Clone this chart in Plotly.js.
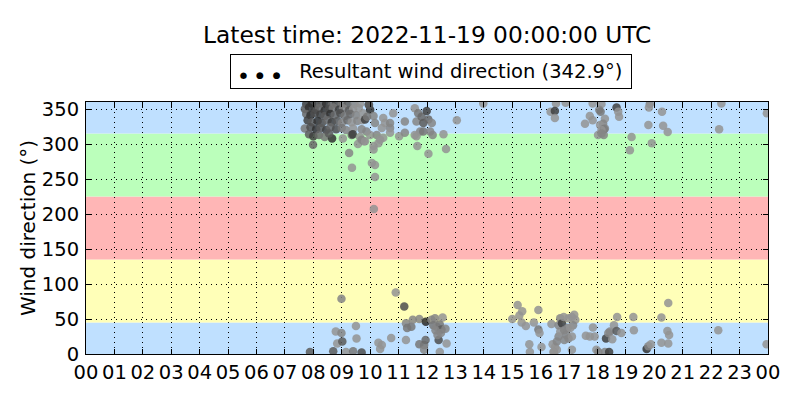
<!DOCTYPE html>
<html><head><meta charset="utf-8">
<script src="https://cdn.plot.ly/plotly-3.0.1.min.js"></script>
<style>html,body{margin:0;padding:0;background:#fff}#chart{width:800px;height:400px}</style>
</head><body><div id="chart"></div>
<script>
// [hour of day (UTC), wind direction (deg), darkness 0..1]
const morningNorth = [
[7.75,357,.8],[7.95,358,.9],[8.1,356,.7],[8.3,358,.6],[8.45,357,.9],[8.65,356,.5],[8.8,358,.7],[9.0,357,.4],[9.2,356,.6],[9.45,357,.3],[9.65,358,.2],[9.95,356,.8],
[7.7,350,.6],[7.85,352,.9],[8.05,349,.8],[8.2,351,.5],[8.4,348,.9],[8.55,350,.7],[8.7,352,.4],[8.9,349,.8],[9.05,351,.3],[9.25,348,.6],[9.4,350,.2],[9.6,351,.2],
[7.75,343,.5],[7.9,341,.9],[8.05,344,.7],[8.25,342,.8],[8.4,340,.6],[8.6,343,.9],[8.75,341,.5],[8.95,344,.7],[9.1,340,.4],[9.3,343,.5],[9.5,341,.3],[9.75,344,.2],
[7.8,334,.8],[7.95,331,.6],[8.15,333,.9],[8.3,330,.7],[8.5,334,.5],[8.65,331,.8],[8.85,333,.6],[9.0,330,.3],[9.2,334,.5],[9.35,331,.2],[9.55,333,.3],[9.71,334,.2],
[7.7,322,.4],[7.9,324,.7],[8.1,321,.9],[8.25,323,.6],[8.45,320,.8],[8.6,324,.5],[8.8,321,.7],[9.0,323,.4],[9.15,320,.3],[9.4,322,.2],[9.7,321,.3],
[7.85,314,.6],[8.0,311,.8],[8.2,313,.5],[8.4,310,.4],[8.66,308,.9],[8.55,315,.6],[9.04,308,.2],[9.35,313,.5],[9.39,314,.8],[9.64,310,.2],[9.78,304,.2],[9.57,300,.2],
[7.99,299,.5],[9.26,287,.3],[9.36,266,.2]
];
const middayNorth = [
[10.0,349,.9],[9.82,335,.8],[10.12,340,.3],[10.17,330,.3],[10.46,337,.2],[10.52,330,.2],[10.41,323,.2],[10.7,330,.3],[10.7,323,.3],[10.7,316,.2],[10.81,344,.2],
[9.87,318,.3],[10.0,313,.2],[10.23,313,.3],[10.35,306,.2],[10.46,309,.2],[10.29,301,.2],[10.12,297,.2],[10.12,292,.2],[9.7,306,.3],[9.82,304,.2],
[11.02,311,.2],[11.22,332,.3],[11.22,316,.3],
[11.57,351,.2],[11.69,344,.4],[11.63,332,.3],[11.81,339,.5],[11.87,330,.6],[11.76,318,.3],[11.57,313,.2],[11.63,311,.2],[11.87,318,.4],[11.99,347,.8],
[12.05,335,.5],[12.17,330,.3],[12.11,318,.3],[12.2,313,.3],
[11.66,297,.2],[12.05,286,.2],[12.58,314,.2],[12.67,293,.2],[13.05,334,.2],[10.06,273,.2],[10.17,270,.2],[10.17,253,.2],[10.13,207,.2],[9.96,356,.6],[9.89,339,.4]
];
const morningEast = [
[7.88,3,.6],[8.7,4,.6],[8.79,32,.2],[8.84,15,.2],[8.99,79,.3],[8.99,30,.3],[9.02,18,.6],[9.15,3,.2],[9.4,4,.4],[9.5,40,.2],[9.52,22,.2],[9.7,2,.7],
[10.29,16,.2],[10.35,7,.2],[10.41,13,.2],[10.74,23,.2],[10.9,88,.2],[11.2,68,.7],[11.26,44,.3],[11.3,37,.4],[11.45,39,.4],[11.5,49,.3],[11.26,20,.2],
[11.73,50,.3],[11.73,14,.4],[11.9,13,.4],[11.95,20,.5],[11.9,6,.3],[12.45,3,.2],[12.41,20,.7],[12.69,15,.2],[11.96,46,.95],[12.16,49,.3],[12.28,51,.3],
[12.55,52,.2],[12.22,41,.4],[12.34,39,.3],[12.45,42,.4],[12.51,35,.6],[12.65,36,.3],[12.3,34,.3],[12.37,27,.3],[12.49,30,.3]
];
const afternoonEast = [
[15.0,50,.2],[15.19,70,.2],[15.25,55,.2],[15.35,61,.2],[15.33,45,.2],[15.48,40,.2],[15.6,14,.2],[15.62,3,.2],[15.76,45,.2],[15.92,63,.2],[15.92,35,.4],
[15.96,30,.2],[16.03,10,.2],[16.38,43,.2],[16.42,14,.2],[16.47,3,.2],
[16.51,10,.2],[16.57,18,.3],[16.63,25,.3],[16.69,32,.2],[16.63,41,.3],[16.69,51,.3],[16.75,44,.8],[16.83,34,.3],[16.9,27,.3],[16.95,37,.3],[16.81,53,.2],
[16.98,51,.2],[17.1,53,.2],[17.18,56,.2],[17.22,49,.2],[17.14,41,.3],[17.04,37,.2],[16.98,22,.3],[17.1,25,.2],[16.83,20,.3],[16.57,6,.2],[16.45,3,.2],[17.1,6,.2],
[17.59,26,.2],[17.73,25,.2],[17.9,25,.2],[17.84,38,.2],[17.96,6,.2],[18.03,3,.3],[18.26,3,.3],[18.41,3,.8],[18.3,22,.8],[18.38,30,.3],[18.44,32,.3],
[18.52,21,.2],[18.58,41,.2],[18.67,33,.6],[18.69,53,.2],[18.84,30,.2],[19.26,53,.2],[19.28,34,.2],[19.73,7,.9],[19.79,11,.3],[19.88,14,.2],
[20.25,52,.2],[20.25,16,.2],[20.49,73,.2],[20.46,33,.2],[20.52,27,.2],[20.49,15,.2],[22.25,34,.2],[23.95,14,.2]
];
const afternoonNorth = [
[13.98,358,.2],[16.54,358,.2],[16.88,359,.2],[16.35,346,.2],[16.5,347,.8],[16.5,337,.2],[17.83,358,.2],[18.14,357,.2],[18.06,349,.3],[18.11,346,.4],
[17.73,340,.2],[17.83,334,.2],[17.56,329,.2],[18.26,336,.2],[18.2,329,.3],[18.09,327,.2],[18.23,321,.7],[18.26,322,.3],[18.14,320,.2],[18.02,313,.2],
[18.22,313,.3],[18.14,315,.3],[18.67,352,.8],[18.73,346,.2],[18.76,339,.2],[19.2,310,.2],[19.14,291,.2],[19.84,357,.3],[19.81,352,.2],[20.27,346,.2],
[19.79,327,.2],[20.31,326,.2],[20.47,317,.2],[19.91,301,.2],[22.36,358,.2],[22.28,321,.2],[23.96,344,.2]
];
const bandLower = [0, 45, 135, 225, 315];
const bandUpper = [45, 135, 225, 315, 360];
const hourTicks = [0,1,2,3,4,5,6,7,8,9,10,11,12,13,14,15,16,17,18,19,20,21,22,23,24];
const hourLabels = ['00','01','02','03','04','05','06','07','08','09','10','11','12','13','14','15','16','17','18','19','20','21','22','23','00'];
const dirTicks = [0,50,100,150,200,250,300,350];
const resultantDir = 342.9;
const latestTime = '2022-11-19 00:00:00 UTC';

const bandColors = ['#bfe0ff','#ffffb8','#ffb6b6','#bbffbb','#bfe0ff'];

const all = [].concat(morningNorth, middayNorth, morningEast, afternoonEast, afternoonNorth);
const xs = all.map(p => p[0]);
const ys = all.map(p => p[1]);
const cols = all.map(p => { const g = Math.round(175 - 140*p[2]); return `rgba(${g},${g},${g},0.85)`; });

const F = 'DejaVu Sans, Liberation Sans, sans-serif';
const shapes = bandLower.map((lo,i) => ({
  type:'rect', xref:'paper', yref:'y', x0:0, x1:1, y0:lo, y1:bandUpper[i],
  fillcolor: bandColors[i], line:{width:0}, layer:'below'
}));

const axisCommon = {
  showline:true, linecolor:'black', linewidth:1, mirror:'ticks',
  ticks:'inside', ticklen:5, tickcolor:'black',
  showgrid:true, gridcolor:'black', griddash:'1px,4px', gridwidth:1,
  zeroline:false, tickfont:{family:F, size:19.5, color:'black'}
};

const dot = s => `<span style="font-size:${s}px">●</span>`;
const gap = '&nbsp;<span style="font-size:8.5px">&nbsp;</span>';

const layout = {
  width:800, height:400,
  margin:{l:86, r:32, t:102, b:46},
  paper_bgcolor:'white', plot_bgcolor:'white',
  showlegend:false,
  title:{text:'Latest time: ' + latestTime, font:{family:F, size:23.3, color:'black'},
         x:0.534, xanchor:'center', y:0.912, yanchor:'middle', xref:'container', yref:'container'},
  xaxis:Object.assign({}, axisCommon, {range:[0,24], tickvals:hourTicks, ticktext:hourLabels, ticklabelstandoff:1}),
  yaxis:Object.assign({}, axisCommon, {range:[0,360], tickvals:dirTicks, ticklabelstandoff:2,
         title:{text:'Wind direction (°)', font:{family:F, size:20, color:'black'}, standoff:0}}),
  shapes: shapes,
  annotations:[{
    xref:'paper', yref:'paper', x:0.506, y:1.122, xanchor:'center', yanchor:'middle',
    text: dot(8.5) + gap + dot(9) + gap + dot(9) + '&nbsp;&nbsp;&nbsp;Resultant wind direction (' + resultantDir.toFixed(1) + '°)',
    showarrow:false, font:{family:F, size:19.5, color:'black'}, align:'center', width:390,
    bordercolor:'black', borderwidth:1, borderpad:5, bgcolor:'white'
  }]
};

Plotly.newPlot('chart', [{
  type:'scatter', mode:'markers', x:xs, y:ys, cliponaxis:true,
  marker:{size:8.5, color:cols, line:{width:0}},
  hoverinfo:'none'
}], layout, {staticPlot:true});
</script></body></html>
